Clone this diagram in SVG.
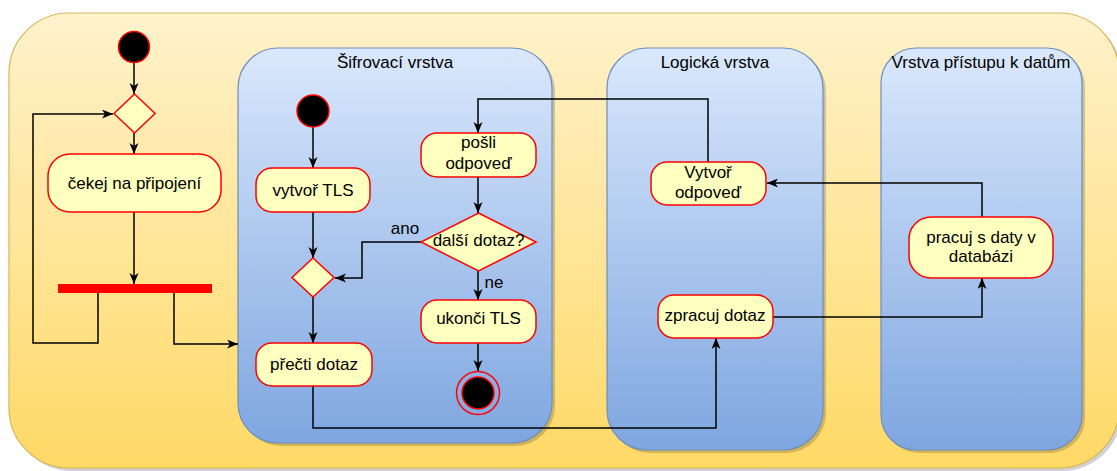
<svg xmlns="http://www.w3.org/2000/svg" width="1117" height="471" viewBox="0 0 1117 471">
<style>
text{font-family:"Liberation Sans",Arial,sans-serif;font-size:17px;fill:#000;text-anchor:middle;dominant-baseline:central}
.act{fill:#ffffc0;stroke:#ff0000;stroke-width:1.5}
.lane{fill:url(#gBlue);stroke:#6c8ebf;stroke-width:1.2}
.shadow{fill:#000;opacity:0.18}
.con{fill:none;stroke:#000;stroke-width:1.5}
.arr{marker-end:url(#ah)}
</style>
<defs>
<linearGradient id="gYellow" x1="0" y1="0" x2="0" y2="1">
<stop offset="0" stop-color="#fff2cc"/><stop offset="1" stop-color="#ffd966"/>
</linearGradient>
<linearGradient id="gBlue" x1="0" y1="0" x2="0" y2="1">
<stop offset="0" stop-color="#dae8fc"/><stop offset="1" stop-color="#7ea6e0"/>
</linearGradient>
<marker id="ah" markerUnits="userSpaceOnUse" markerWidth="12" markerHeight="10" refX="11" refY="4.5" orient="auto">
<path d="M0,0 L11,4.5 L0,9 L3,4.5 Z" fill="#000"/>
</marker>
</defs>

<g id="container">
<rect class="shadow" x="12" y="16" width="1110" height="455" rx="60"/>
<rect x="9" y="13" width="1110" height="455" rx="60" fill="url(#gYellow)" stroke="#d6b656" stroke-width="1.2"/>
</g>

<g id="lane-sifrovaci">
<rect class="shadow" x="241" y="51" width="314" height="395" rx="40"/>
<rect class="lane" x="238" y="48" width="314" height="395" rx="40"/>
<text x="395" y="62">Šifrovací vrstva</text>
</g>
<g id="lane-logicka">
<rect class="shadow" x="610" y="51" width="216" height="402" rx="40"/>
<rect class="lane" x="607" y="48" width="216" height="402" rx="40"/>
<text x="715" y="62">Logická vrstva</text>
</g>
<g id="lane-pristup">
<rect class="shadow" x="884" y="51" width="201" height="402" rx="35"/>
<rect class="lane" x="881" y="48" width="201" height="402" rx="35"/>
<text x="981" y="62">Vrstva přístupu k datům</text>
</g>

<g id="connectors">
<path class="con arr" d="M134,63 V94"/>
<path class="con arr" d="M134,133 V154"/>
<path class="con arr" d="M134,212 V284"/>
<path class="con arr" d="M98,290 V343 H33 V114 H113"/>
<path class="con arr" d="M174,290 V344 H238"/>
<path class="con arr" d="M313,127 V168"/>
<path class="con arr" d="M313,212 V258"/>
<path class="con arr" d="M313,297 V343"/>
<path class="con arr" d="M708,162 V99 H478 V133"/>
<path class="con arr" d="M478,177 V213"/>
<path class="con arr" d="M421,242 H362 V278 H335"/>
<path class="con arr" d="M478,271 V300"/>
<path class="con arr" d="M478,343 V371"/>
<path class="con arr" d="M313,386 V428 H716 V338"/>
<path class="con arr" d="M773,317 H982 V278"/>
<path class="con arr" d="M982,217 V183 H767"/>
<text x="405" y="228">ano</text>
<text x="494" y="282">ne</text>
</g>

<g id="start1"><circle cx="134" cy="47" r="15.5" fill="#000" stroke="#ff0000" stroke-width="1.5"/></g>
<g id="merge1"><polygon class="act" points="134.5,94 155,113.5 134.5,133 114,113.5"/></g>
<g id="cekej"><rect class="act" x="48" y="154" width="173" height="58" rx="22"/><text x="134.5" y="183">čekej na připojení</text></g>
<g id="fork"><rect x="58" y="284" width="154" height="9" fill="#ff0000"/></g>

<g id="start2"><circle cx="313" cy="111" r="16" fill="#000" stroke="#ff0000" stroke-width="1.5"/></g>
<g id="vytvor-tls"><rect class="act" x="256" y="168" width="114" height="44" rx="16"/><text x="313" y="190">vytvoř TLS</text></g>
<g id="merge2"><polygon class="act" points="313,258 334,277.5 313,297 292,277.5"/></g>
<g id="precti"><rect class="act" x="256" y="343" width="116" height="43" rx="16"/><text x="314" y="364.5">přečti dotaz</text></g>
<g id="posli"><rect class="act" x="421" y="133" width="115" height="44" rx="16"/><text x="478.5" y="142">pošli</text><text x="478.5" y="163">odpoveď</text></g>
<g id="dalsi"><polygon class="act" points="478.5,213 536,242 478.5,271 421,242"/><text x="478.5" y="240">další dotaz?</text></g>
<g id="ukonci"><rect class="act" x="421" y="300" width="115" height="43" rx="16"/><text x="478.5" y="318">ukonči TLS</text></g>
<g id="end"><circle cx="478" cy="393" r="21.5" fill="none" stroke="#ff0000" stroke-width="1.5"/><circle cx="478" cy="393" r="16" fill="#000" stroke="#ff0000" stroke-width="1.5"/></g>

<g id="vytvor-odpoved"><rect class="act" x="651" y="162" width="115" height="43" rx="16"/><text x="708" y="172">Vytvoř</text><text x="708" y="192">odpoveď</text></g>
<g id="zpracuj"><rect class="act" x="658" y="295" width="115" height="43" rx="16"/><text x="715" y="315">zpracuj dotaz</text></g>
<g id="pracuj"><rect class="act" x="909" y="217" width="144" height="61" rx="22"/><text x="981" y="237">pracuj s daty v</text><text x="981" y="256">databázi</text></g>
</svg>
